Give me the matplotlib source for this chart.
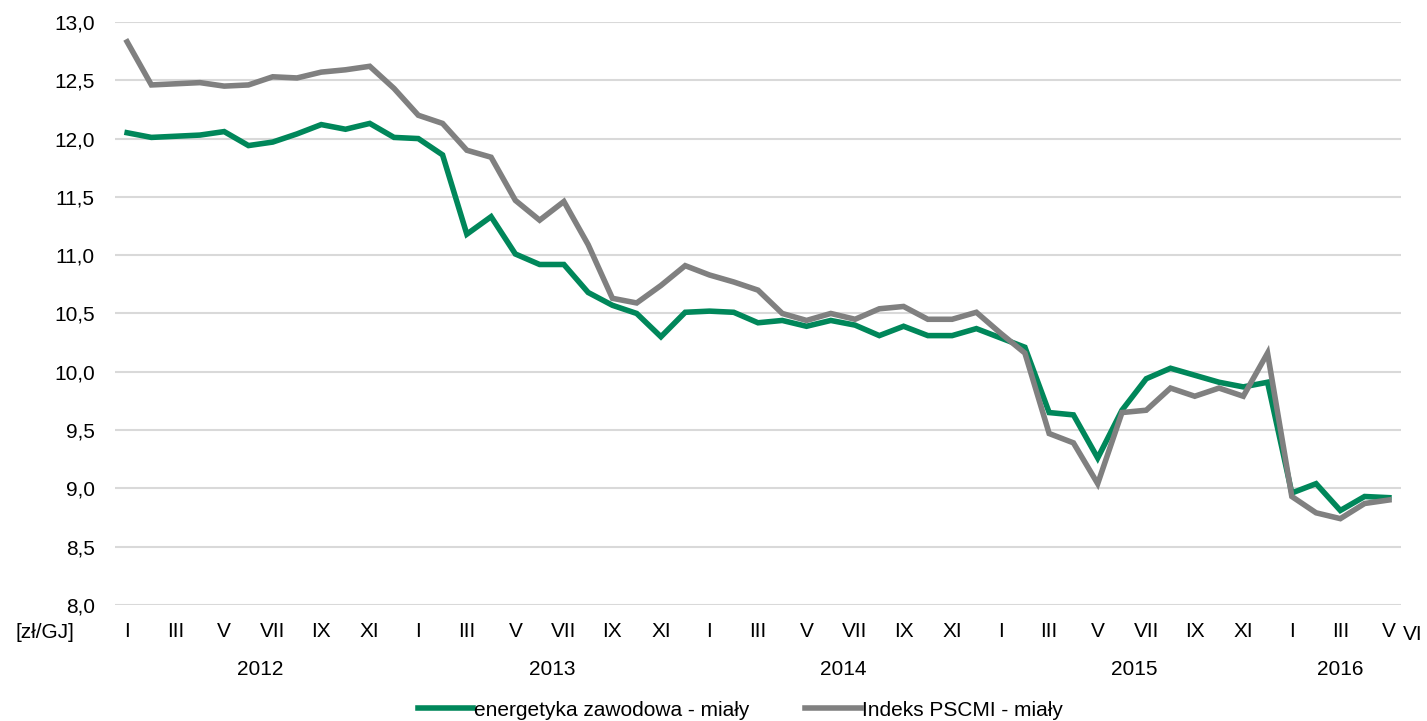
"""Coal fines price: power sector vs PSCMI index, monthly 2012-2016."""

import matplotlib

matplotlib.use("Agg")
import matplotlib.pyplot as plt
from matplotlib.ticker import FuncFormatter

plt.rcParams["font.family"] = ["Liberation Sans", "DejaVu Sans"]

# Jan 2012 .. May 2016 (53 months)
energetyka = [
    12.05, 12.01, 12.02, 12.03, 12.06, 11.94, 11.97, 12.04, 12.12, 12.08, 12.13, 12.01,
    12.00, 11.86, 11.18, 11.33, 11.01, 10.92, 10.92, 10.68, 10.57, 10.50, 10.30, 10.51,
    10.52, 10.51, 10.42, 10.44, 10.39, 10.44, 10.40, 10.31, 10.39, 10.31, 10.31, 10.37,
    10.29, 10.21, 9.65, 9.63, 9.26, 9.67, 9.94, 10.03, 9.97, 9.91, 9.87, 9.91,
    8.96, 9.04, 8.81, 8.93, 8.92,
]
pscmi = [
    12.83, 12.46, 12.47, 12.48, 12.45, 12.46, 12.53, 12.52, 12.57, 12.59, 12.62, 12.43,
    12.20, 12.13, 11.90, 11.84, 11.47, 11.30, 11.46, 11.09, 10.63, 10.59, 10.74, 10.91,
    10.83, 10.77, 10.70, 10.50, 10.44, 10.50, 10.45, 10.54, 10.56, 10.45, 10.45, 10.51,
    10.33, 10.16, 9.47, 9.39, 9.04, 9.65, 9.67, 9.86, 9.79, 9.86, 9.79, 10.16,
    8.93, 8.79, 8.74, 8.87, 8.90,
]
month_names = ["I", "II", "III", "IV", "V", "VI", "VII", "VIII", "IX", "X", "XI", "XII"]
years = ["2012", "2013", "2014", "2015", "2016"]
series_labels = ["energetyka zawodowa - miały", "Indeks PSCMI - miały"]

GREEN = "#00875A"
GRAY = "#808080"
FS = 15

fig = plt.figure(figsize=(14.27, 7.21), dpi=100)
ax = fig.add_axes([115 / 1427, 0.161, 1286 / 1427, 0.8085])

x = list(range(len(energetyka)))
ax.plot(x, energetyka, color=GREEN, lw=4.0, label=series_labels[0], solid_joinstyle="miter")
ax.plot(x, pscmi, color=GRAY, lw=4.0, label=series_labels[1], solid_joinstyle="miter")

ax.set_xlim(-0.5, len(x) - 0.5)
ax.set_ylim(8.0, 13.0)
ax.set_yticks([8.0 + 0.5 * i for i in range(11)])
ax.yaxis.set_major_formatter(FuncFormatter(lambda v, _: f"{v:.1f}".replace(".", ",")))
ax.tick_params(axis="y", length=0, pad=14.5, labelsize=FS)
ax.set_xticks([])
ax.grid(axis="y", color="#D9D9D9", lw=1.5)
ax.set_axisbelow(True)
for spine in ax.spines.values():
    spine.set_visible(False)

# month labels (every other month) plus trailing "VI"
trans = ax.get_xaxis_transform()
for i in range(0, len(x), 2):
    ax.text(i, -0.046, month_names[i % 12], transform=trans, ha="center", va="center",
            fontsize=FS, clip_on=False)
ax.text(len(x), -0.05, "VI", transform=trans, ha="center", va="center", fontsize=FS, clip_on=False)

# year labels centred over their months
for k, year in enumerate(years):
    start = 12 * k
    end = min(start + 11, len(x) - 1)
    ax.text((start + end) / 2, -0.111, year, transform=trans, ha="center", va="center",
            fontsize=FS, clip_on=False)

fig.text(45 / 1427, 1 - 632 / 721, "[zł/GJ]", ha="center", va="center", fontsize=FS)

fig.legend(loc="center", bbox_to_anchor=(0.5186, 0.015), ncol=2, frameon=False, fontsize=FS,
           handlelength=2.65, handletextpad=0.05, columnspacing=2.7)

fig.savefig("out.png", dpi=100)
